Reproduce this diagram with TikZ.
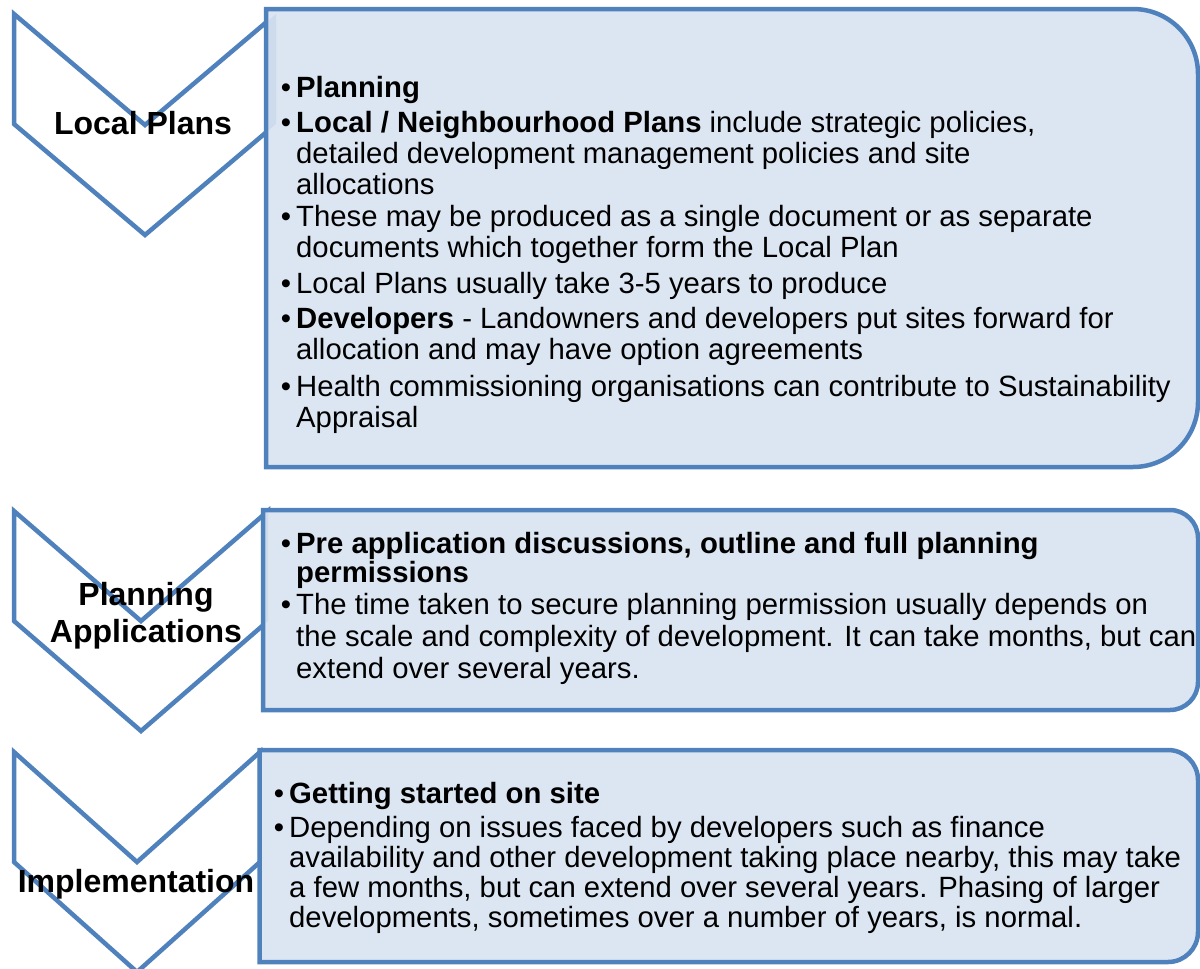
\documentclass[tikz,border=0pt]{standalone}
\usepackage{fontspec}
\setmainfont{Liberation Sans}
\definecolor{accent}{HTML}{4F81BD}
\definecolor{boxfill}{HTML}{DCE6F2}
\newcommand{\bul}{\llap{\textbullet\hspace{5pt}}}
\begin{document}
\begin{tikzpicture}[x=1pt,y=-1pt,
    chev/.style={draw=accent,line width=4.5pt,fill=white},
    card/.style={draw=accent,line width=4.5pt,fill=boxfill},
    band/.style={fill=accent,fill opacity=0.1},
    txt/.style={font=\fontsize{29.3}{31}\selectfont,anchor=base west,align=left,inner sep=0pt},
    stage/.style={font=\fontsize{32}{37}\selectfont\bfseries,anchor=base,align=center,inner sep=0pt}]
  \useasboundingbox (0,0) rectangle (1200,969);
  % chevrons
  \draw[chev] (14,14) -- (145,125) -- (276,14) -- (276,124) -- (145,235) -- (14,124) -- cycle;
  \draw[chev] (14,511) -- (141,621) -- (268,511) -- (268,621) -- (141,731) -- (14,621) -- cycle;
  \draw[chev] (14,752) -- (137,862) -- (260,752) -- (260,862) -- (137,972) -- (14,862) -- cycle;
  % boxes
  \draw[card] (266,9) -- (1133,9) arc[start angle=270,end angle=360,radius=65]
    -- (1198,402) arc[start angle=0,end angle=90,radius=65] -- (266,467) -- cycle;
  \draw[card] (263,510) -- (1170,510) arc[start angle=270,end angle=360,radius=28]
    -- (1198,682) arc[start angle=0,end angle=90,radius=28] -- (263,710) -- cycle;
  \draw[card] (259.5,750) -- (1168,750) arc[start angle=270,end angle=360,radius=30]
    -- (1198,932) arc[start angle=0,end angle=90,radius=30] -- (259.5,962) -- cycle;
  % chevron tips under the boxes
  \fill[band] (268.5,20.4) -- (276,14) -- (276,124) -- (268.5,130.4) -- cycle;
  \fill[band] (265.5,513.2) -- (268,511) -- (268,621) -- (265.5,623.2) -- cycle;
  % stage labels (base = last line)
  \node[stage] (lplans) at (143,134) {Local Plans};
  \node[stage] (papps) at (146,642) {Planning\\Applications};
  \node[stage] (impl) at (136,892) {Implementation};
  % local plans
  \node[txt] (plan) at (296,97) {\bul\textbf{Planning}};
  \node[txt] (nplans) at (296,194) {\bul\textbf{Local / Neighbourhood Plans} include strategic policies,\\
    detailed development management policies and site\\
    allocations};
  \node[txt] (single) at (296,257) {\bul These may be produced as a single document or as separate\\
    documents which together form the Local Plan};
  \node[txt] (years) at (296,293) {\bul Local Plans usually take 3-5 years to produce};
  \node[txt] (dev) at (296,359) {\bul\textbf{Developers} - Landowners and developers put sites forward for\\
    allocation and may have option agreements};
  \node[txt] (health) at (296,427) {\bul Health commissioning organisations can contribute to Sustainability\\
    Appraisal};
  % planning applications
  \node[txt] (preapp) at (296,582) {\bul\textbf{Pre application discussions, outline and full planning}\\[-2pt]
    \textbf{permissions}};
  \node[txt] (time) at (296,678) {\bul The time taken to secure planning permission usually depends on\\[1pt]
    the scale and complexity of development. It can take months, but can\\[1pt]
    extend over several years.};
  % implementation
  \node[txt] (start) at (289,803) {\bul\textbf{Getting started on site}};
  \node[txt] (depend) at (289,927) {\bul Depending on issues faced by developers such as finance\\[-1pt]
    availability and other development taking place nearby, this may take\\[-1pt]
    a few months, but can extend over several years. Phasing of larger\\[-1pt]
    developments, sometimes over a number of years, is normal.};
\end{tikzpicture}
\end{document}
